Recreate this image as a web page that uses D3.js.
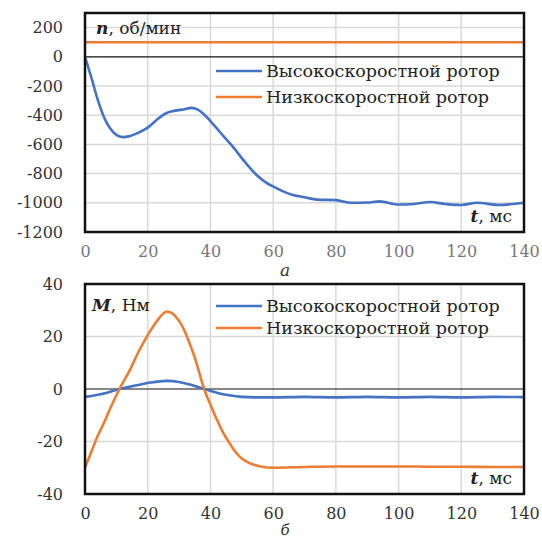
<!DOCTYPE html>
<html>
<head>
<meta charset="utf-8">
<script src="https://cdn.jsdelivr.net/npm/d3@7"></script>
<style>
  body { margin: 0; background: #fff; }
  svg { display: block; }
  text { font-family: "DejaVu Serif", "Liberation Serif", serif; }
</style>
</head>
<body>
<svg id="chart" width="542" height="540"></svg>
<script>
// time axis, ms
const xTicks = [0, 20, 40, 60, 80, 100, 120, 140];

// panel a: rotational speed, rpm
const nTime = [0, 2, 4, 6, 8, 10, 12, 14, 17, 20, 23, 26, 28, 31, 34, 36, 38, 40, 43, 47, 51, 55, 58, 60, 63, 66, 70, 74, 80, 85, 90, 94, 100, 105, 110, 115, 120, 125, 132, 140];
const nHigh = [0, -140, -290, -410, -490, -535, -550, -545, -520, -485, -430, -385, -372, -362, -350, -362, -395, -440, -515, -612, -720, -815, -865, -888, -920, -945, -962, -978, -982, -1000, -998, -990, -1012, -1008, -995, -1008, -1015, -1000, -1015, -1000];
const nLowTime = [0, 140];
const nLow = [100, 100];
const nTicks = [200, 0, -200, -400, -600, -800, -1000, -1200];

// panel b: torque, N*m
const mTime = [0, 2, 4, 6, 8, 11, 14, 17, 20, 23, 25, 26, 27, 29, 31, 33, 35, 38, 40, 42, 44, 46, 48, 50, 53, 56, 60, 70, 80, 90, 100, 110, 120, 130, 140];
const mLow = [-30, -24, -18, -13, -7.5, 0, 6.5, 14, 20.5, 26, 28.8, 29.5, 29.3, 27.5, 24, 18.5, 12, 0, -6, -11.5, -16.5, -20.5, -24, -26.5, -28.5, -29.5, -30, -29.7, -29.5, -29.5, -29.5, -29.6, -29.6, -29.7, -29.7];
const mHighTime = [0, 5, 11, 16, 21, 26, 30, 34, 38, 42, 46, 50, 55, 60, 70, 80, 90, 100, 110, 120, 130, 140];
const mHigh = [-3, -2, 0, 1.3, 2.5, 3.1, 2.7, 1.5, 0, -1.4, -2.4, -3, -3.2, -3.2, -3, -3.2, -3, -3.2, -3, -3.2, -3, -3.1];
const mTicks = [40, 20, 0, -20, -40];

const seriesNames = ['Высокоскоростной ротор', 'Низкоскоростной ротор'];
const colors = ['#4472c4', '#ed7d31'];

const svg = d3.select('#chart');
const x = d3.scaleLinear().domain([0, 140]).range([85, 524]);

function drawPanel(cfg) {
  const y = d3.scaleLinear().domain(cfg.domain).range(cfg.range);
  const g = svg.append('g');

  // grid
  g.selectAll('.vgrid').data(xTicks.slice(1, -1)).enter().append('line')
    .attr('x1', d => x(d)).attr('x2', d => x(d))
    .attr('y1', cfg.range[1]).attr('y2', cfg.range[0])
    .attr('stroke', '#d9d9d9').attr('stroke-width', 1.5);
  g.selectAll('.hgrid').data(cfg.ticks.filter(d => d !== 0)).enter().append('line')
    .attr('x1', x(0)).attr('x2', x(140))
    .attr('y1', d => y(d)).attr('y2', d => y(d))
    .attr('stroke', '#d9d9d9').attr('stroke-width', 1.5);
  g.append('line')
    .attr('x1', x(0)).attr('x2', x(140))
    .attr('y1', y(0)).attr('y2', y(0))
    .attr('stroke', '#111').attr('stroke-width', 1.2);

  // axes labels
  const yAxis = d3.axisLeft(y).tickValues(cfg.ticks).tickFormat(d => String(d))
    .tickSize(0).tickPadding(22);
  const ya = g.append('g').attr('transform', `translate(${x(0)},0)`).call(yAxis);
  ya.select('.domain').remove();
  ya.selectAll('text').attr('font-size', 16).attr('fill', '#333')
    .style('font-family', '"DejaVu Serif", serif');

  const xAxis = d3.axisBottom(x).tickValues(xTicks).tickFormat(d => String(d))
    .tickSize(0).tickPadding(14);
  const xa = g.append('g').attr('transform', `translate(0,${cfg.range[0]})`).call(xAxis);
  xa.select('.domain').remove();
  xa.selectAll('text').attr('font-size', 16).attr('fill', cfg.xColor)
    .style('font-family', '"DejaVu Serif", serif');

  // series
  const line = d3.line().x(d => x(d[0])).y(d => y(d[1])).curve(d3.curveMonotoneX);
  cfg.series.forEach((s, i) => {
    g.append('path')
      .datum(d3.zip(s.t, s.v))
      .attr('d', line)
      .attr('fill', 'none')
      .attr('stroke', colors[i])
      .attr('stroke-width', 2.6)
      .attr('stroke-linejoin', 'round');
  });

  // frame
  g.append('rect')
    .attr('x', x(0)).attr('y', cfg.range[1])
    .attr('width', x(140) - x(0)).attr('height', cfg.range[0] - cfg.range[1])
    .attr('fill', 'none').attr('stroke', '#111').attr('stroke-width', 2.5);

  // legend
  seriesNames.forEach((name, i) => {
    const ly = cfg.legendY + i * cfg.legendGap;
    g.append('line').attr('x1', 216).attr('x2', 262).attr('y1', ly).attr('y2', ly)
      .attr('stroke', colors[i]).attr('stroke-width', 2.6);
    g.append('text').attr('x', 266).attr('y', ly + 5.5)
      .attr('font-size', 17.5).attr('fill', '#222').text(name);
  });

  // axis titles inside plot
  const yt = g.append('text').attr('x', cfg.yTitleX).attr('y', cfg.yTitleY)
    .attr('font-size', 17).attr('fill', '#222');
  yt.append('tspan').attr('font-weight', 'bold').attr('font-style', 'italic').text(cfg.yVar);
  yt.append('tspan').text(cfg.yUnit);

  const xt = g.append('text').attr('x', 512).attr('y', cfg.range[0] - 10)
    .attr('text-anchor', 'end').attr('font-size', 17).attr('fill', '#222');
  xt.append('tspan').attr('font-weight', 'bold').attr('font-style', 'italic').text('t');
  xt.append('tspan').text(', мс');

  svg.append('text').attr('x', 285).attr('y', cfg.captionY)
    .attr('text-anchor', 'middle').attr('font-size', cfg.captionSize).attr('font-style', 'italic')
    .attr('fill', '#333').text(cfg.caption);
}

drawPanel({
  domain: [-1200, 300], range: [232, 13], ticks: nTicks, xColor: '#777',
  series: [{ t: nTime, v: nHigh }, { t: nLowTime, v: nLow }],
  legendY: 71, legendGap: 26,
  yVar: 'n', yUnit: ', об/мин', yTitleX: 96, yTitleY: 34,
  caption: 'а', captionY: 276, captionSize: 17
});

drawPanel({
  domain: [-40, 40], range: [494, 284], ticks: mTicks, xColor: '#333',
  series: [{ t: mHighTime, v: mHigh }, { t: mTime, v: mLow }],
  legendY: 306, legendGap: 22,
  yVar: 'M', yUnit: ', Нм', yTitleX: 92, yTitleY: 311,
  caption: 'б', captionY: 535, captionSize: 15
});
</script>
</body>
</html>
